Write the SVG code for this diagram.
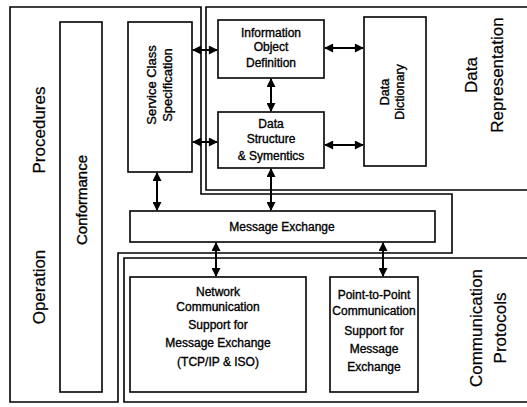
<svg xmlns="http://www.w3.org/2000/svg" width="527" height="407" viewBox="0 0 527 407">
<style>
.frame{fill:none;stroke:#000;stroke-width:1.6}
.box{fill:#fff;stroke:#000;stroke-width:1.6}
.t{font-family:"Liberation Sans",Arial,sans-serif;font-size:12px;fill:#000;stroke:#000;stroke-width:0.35;text-anchor:middle}
.big{font-family:"Liberation Sans",Arial,sans-serif;font-size:17px;fill:#000;stroke:#000;stroke-width:0.2;text-anchor:middle}
.c{stroke:#000;stroke-width:2;fill:none;marker-start:url(#a);marker-end:url(#a)}
</style>
<defs>
<marker id="a" viewBox="0 0 10 10" refX="9" refY="5" markerWidth="5" markerHeight="4.5" orient="auto-start-reverse" markerUnits="strokeWidth">
<path d="M0,0 L10,5 L0,10 z" fill="#000"/>
</marker>
</defs>
<rect width="527" height="407" fill="#fff"/>
<g id="operation-procedures">
<path class="frame" d="M10,7 H201 V194 H452 V253 H118 V402 H10 Z"/>
<text class="big" transform="translate(45,287) rotate(-90)">Operation</text>
<text class="big" transform="translate(45,130) rotate(-90)">Procedures</text>
</g>
<g id="data-representation">
<path class="frame" d="M527,7 H206 V190 H527"/>
<text class="big" transform="translate(477,75) rotate(-90)">Data</text>
<text class="big" transform="translate(503,75) rotate(-90)">Representation</text>
</g>
<g id="communication-protocols">
<path class="frame" d="M527,258 H124 V402 H527"/>
<text class="big" transform="translate(482,328) rotate(-90)">Communication</text>
<text class="big" transform="translate(506,328) rotate(-90)">Protocols</text>
</g>
<g id="conformance">
<rect class="box" x="60" y="22" width="42" height="370"/>
<text class="t" style="font-size:15px" transform="translate(87,200) rotate(-90)">Conformance</text>
</g>
<g id="service-class">
<rect class="box" x="128" y="22" width="64" height="150"/>
<text class="t" style="font-size:13px" transform="translate(156,85) rotate(-90)">Service Class</text>
<text class="t" style="font-size:13px" transform="translate(172,85) rotate(-90)">Specification</text>
</g>
<g id="information-object">
<rect class="box" x="218" y="20" width="106" height="58"/>
<text class="t" x="271" y="37">Information</text>
<text class="t" x="271" y="51">Object</text>
<text class="t" x="271" y="67">Definition</text>
</g>
<g id="data-structure">
<rect class="box" x="218" y="112" width="106" height="56"/>
<text class="t" x="271" y="128">Data</text>
<text class="t" x="271" y="143">Structure</text>
<text class="t" x="271" y="160">&amp; Symentics</text>
</g>
<g id="data-dictionary">
<rect class="box" x="364" y="17" width="62" height="149"/>
<text class="t" style="font-size:12.5px" transform="translate(389,92) rotate(-90)">Data</text>
<text class="t" style="font-size:12.5px" transform="translate(404,92) rotate(-90)">Dictionary</text>
</g>
<g id="message-exchange">
<rect class="box" x="130" y="211" width="305" height="31"/>
<text class="t" x="282" y="231">Message Exchange</text>
</g>
<g id="network">
<rect class="box" x="130" y="277" width="176" height="115"/>
<text class="t" x="218" y="296">Network</text>
<text class="t" x="218" y="311">Communication</text>
<text class="t" x="218" y="329">Support for</text>
<text class="t" x="218" y="347">Message Exchange</text>
<text class="t" x="218" y="366">(TCP/IP &amp; ISO)</text>
</g>
<g id="point-to-point">
<rect class="box" x="330" y="277" width="88" height="115"/>
<text class="t" x="374" y="299">Point-to-Point</text>
<text class="t" x="374" y="315">Communication</text>
<text class="t" x="374" y="335">Support for</text>
<text class="t" x="374" y="353">Message</text>
<text class="t" x="374" y="371">Exchange</text>
</g>
<g id="connectors">
<line class="c" x1="193" y1="50" x2="217" y2="50"/>
<line class="c" x1="193" y1="142" x2="217" y2="142"/>
<line class="c" x1="325" y1="48" x2="363" y2="48"/>
<line class="c" x1="325" y1="145" x2="363" y2="145"/>
<line class="c" x1="271" y1="79" x2="271" y2="111"/>
<line class="c" x1="271" y1="169" x2="271" y2="210"/>
<line class="c" x1="157" y1="173" x2="157" y2="210"/>
<line class="c" x1="216" y1="243" x2="216" y2="276"/>
<line class="c" x1="383" y1="243" x2="383" y2="276"/>
</g>
</svg>
